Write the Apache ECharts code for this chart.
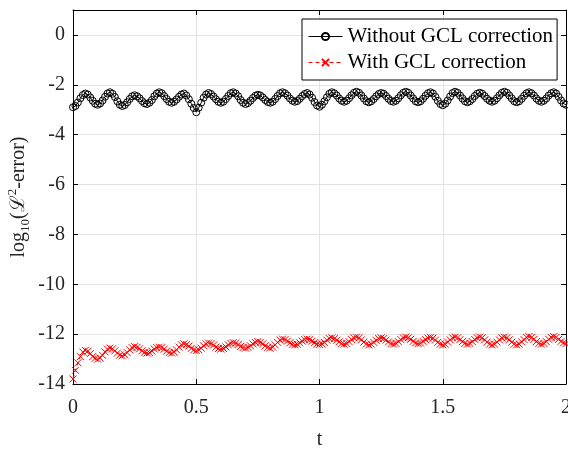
<!DOCTYPE html>
<html>
<head>
<meta charset="utf-8">
<script src="https://cdn.jsdelivr.net/npm/echarts@6/dist/echarts.min.js"></script>
<style>
  html, body { margin: 0; padding: 0; background: #fff; }
  #chart { width: 568px; height: 451px; }
</style>
</head>
<body>
<div id="chart"></div>
<script>
// Sampling step of the time grid (both runs are stored at the same instants)
const T_STEP = 0.01;

// log10 of the L2 error without the geometric conservation law correction
const errWithout = [
  -2.90,-2.85,-2.71,-2.54,-2.41,-2.35,-2.39,-2.51,-2.64,-2.76,
  -2.80,-2.75,-2.63,-2.48,-2.35,-2.30,-2.36,-2.49,-2.66,-2.80,
  -2.85,-2.81,-2.70,-2.57,-2.46,-2.42,-2.46,-2.54,-2.65,-2.74,
  -2.77,-2.72,-2.61,-2.46,-2.35,-2.30,-2.34,-2.45,-2.57,-2.68,
  -2.72,-2.68,-2.59,-2.48,-2.39,-2.35,-2.43,-2.58,-2.76,-2.93,
  -3.10,-2.92,-2.72,-2.52,-2.39,-2.33,-2.37,-2.47,-2.58,-2.68,
  -2.72,-2.68,-2.57,-2.45,-2.34,-2.30,-2.35,-2.46,-2.61,-2.72,
  -2.77,-2.73,-2.64,-2.53,-2.44,-2.40,-2.43,-2.51,-2.61,-2.69,
  -2.72,-2.68,-2.57,-2.45,-2.34,-2.30,-2.34,-2.43,-2.55,-2.64,
  -2.68,-2.65,-2.56,-2.45,-2.37,-2.33,-2.39,-2.52,-2.69,-2.83,
  -2.88,-2.80,-2.66,-2.50,-2.36,-2.30,-2.34,-2.43,-2.55,-2.64,
  -2.68,-2.64,-2.54,-2.42,-2.32,-2.28,-2.32,-2.43,-2.55,-2.66,
  -2.70,-2.66,-2.57,-2.46,-2.37,-2.33,-2.36,-2.45,-2.56,-2.65,
  -2.68,-2.64,-2.54,-2.42,-2.32,-2.28,-2.32,-2.43,-2.55,-2.66,
  -2.70,-2.66,-2.56,-2.44,-2.34,-2.30,-2.35,-2.48,-2.64,-2.77,
  -2.82,-2.76,-2.63,-2.47,-2.33,-2.28,-2.32,-2.43,-2.55,-2.66,
  -2.70,-2.66,-2.57,-2.45,-2.36,-2.32,-2.36,-2.45,-2.56,-2.64,
  -2.68,-2.64,-2.54,-2.42,-2.32,-2.28,-2.32,-2.43,-2.55,-2.66,
  -2.70,-2.66,-2.56,-2.44,-2.34,-2.30,-2.34,-2.43,-2.55,-2.64,
  -2.68,-2.64,-2.55,-2.43,-2.34,-2.30,-2.35,-2.48,-2.63,-2.75,
  -2.80
];

// log10 of the L2 error with the correction applied
const errWith = [
  -13.80,-13.45,-13.15,-12.90,-12.72,-12.65,-12.68,-12.78,-12.90,-12.97,
  -13.00,-12.96,-12.85,-12.71,-12.60,-12.56,-12.59,-12.67,-12.76,-12.84,
  -12.87,-12.83,-12.74,-12.63,-12.54,-12.50,-12.53,-12.59,-12.67,-12.73,
  -12.76,-12.74,-12.68,-12.60,-12.54,-12.52,-12.54,-12.60,-12.68,-12.74,
  -12.76,-12.72,-12.63,-12.52,-12.43,-12.39,-12.42,-12.48,-12.57,-12.63,
  -12.66,-12.63,-12.56,-12.47,-12.39,-12.36,-12.38,-12.44,-12.52,-12.58,
  -12.60,-12.57,-12.51,-12.43,-12.37,-12.34,-12.36,-12.42,-12.49,-12.54,
  -12.56,-12.53,-12.47,-12.39,-12.33,-12.30,-12.33,-12.39,-12.47,-12.53,
  -12.56,-12.52,-12.43,-12.33,-12.24,-12.20,-12.22,-12.28,-12.35,-12.41,
  -12.43,-12.41,-12.35,-12.28,-12.22,-12.20,-12.22,-12.28,-12.34,-12.40,
  -12.42,-12.39,-12.33,-12.24,-12.18,-12.15,-12.18,-12.24,-12.31,-12.38,
  -12.40,-12.37,-12.30,-12.22,-12.15,-12.12,-12.15,-12.23,-12.32,-12.40,
  -12.43,-12.40,-12.33,-12.25,-12.18,-12.15,-12.18,-12.24,-12.31,-12.38,
  -12.40,-12.37,-12.30,-12.22,-12.15,-12.12,-12.15,-12.21,-12.29,-12.35,
  -12.38,-12.36,-12.29,-12.22,-12.16,-12.13,-12.16,-12.24,-12.33,-12.40,
  -12.43,-12.40,-12.32,-12.23,-12.15,-12.12,-12.15,-12.22,-12.30,-12.37,
  -12.40,-12.37,-12.30,-12.22,-12.15,-12.12,-12.15,-12.23,-12.32,-12.40,
  -12.43,-12.40,-12.32,-12.23,-12.15,-12.12,-12.15,-12.23,-12.32,-12.40,
  -12.43,-12.40,-12.31,-12.22,-12.13,-12.10,-12.13,-12.21,-12.30,-12.37,
  -12.40,-12.37,-12.30,-12.21,-12.13,-12.10,-12.13,-12.21,-12.29,-12.35,
  -12.38
];

const seriesNames = ['Without GCL correction', 'With GCL correction'];
const xTicks = [0, 0.5, 1, 1.5, 2];
const yTicks = [-14, -12, -10, -8, -6, -4, -2, 0];

const FONT = "'Liberation Serif', 'DejaVu Serif', serif";
const TXT = '#262626';

const tGrid = errWithout.map((_, i) => +(i * T_STEP).toFixed(2));
const pairs = (ys) => ys.map((y, i) => [tGrid[i], y]);

const chart = echarts.init(document.getElementById('chart'), null, { renderer: 'canvas' });

const boxAxisCommon = {
  axisLine: { show: true, onZero: false, lineStyle: { color: '#000', width: 1 } },
  axisTick: { show: true, inside: true, length: 5, lineStyle: { color: '#000', width: 1 } }
};

chart.setOption({
  animation: false,
  backgroundColor: '#fff',
  grid: { left: 73, right: 2, top: 10, bottom: 67, containLabel: false, outerBoundsMode: 'none' },
  legend: {
    data: seriesNames,
    orient: 'vertical',
    left: 302,
    top: 19,
    padding: [7, 4, 7, 6],
    itemGap: 5,
    itemWidth: 34,
    itemHeight: 9,
    backgroundColor: '#fff',
    borderColor: '#000',
    borderWidth: 1,
    borderRadius: 0,
    lineStyle: { width: 1 },
    textStyle: { fontFamily: FONT, fontSize: 21, color: '#000', lineHeight: 20 }
  },
  xAxis: [
    Object.assign({
      type: 'value', min: xTicks[0], max: xTicks[xTicks.length - 1], interval: 0.5,
      position: 'bottom',
      name: 't', nameLocation: 'middle', nameGap: 46, nameMoveOverlap: false,
      nameTextStyle: { fontFamily: FONT, fontSize: 20, color: TXT },
      axisLabel: { fontFamily: FONT, fontSize: 20, color: TXT, margin: 14,
        formatter: (v) => String(v) },
      splitLine: { show: true, lineStyle: { color: '#e3e3e3', width: 1 } }
    }, boxAxisCommon),
    Object.assign({
      type: 'value', min: 0, max: 2, interval: 0.5, position: 'top',
      axisLabel: { show: false }, splitLine: { show: false }
    }, boxAxisCommon)
  ],
  yAxis: [
    Object.assign({
      type: 'value', min: yTicks[0], max: 1, interval: 2,
      position: 'left',
      name: '{a|log}{s|10}{a|(ℒ}{p|2}{a|-error)}',
      nameLocation: 'middle', nameGap: 41, nameRotate: 90, nameMoveOverlap: false,
      nameTextStyle: {
        fontFamily: FONT, fontSize: 20, color: TXT,
        rich: {
          a: { fontFamily: FONT, fontSize: 20, color: TXT, lineHeight: 26 },
          s: { fontFamily: FONT, fontSize: 13, color: TXT, lineHeight: 12, verticalAlign: 'bottom' },
          p: { fontFamily: FONT, fontSize: 13, color: TXT, lineHeight: 12, verticalAlign: 'top' }
        }
      },
      axisLabel: { fontFamily: FONT, fontSize: 20, color: TXT, margin: 8,
        formatter: (v) => (yTicks.indexOf(v) >= 0 ? String(v) : '') },
      splitLine: { show: true, lineStyle: { color: '#e3e3e3', width: 1 } }
    }, boxAxisCommon),
    Object.assign({
      type: 'value', min: -14, max: 1, interval: 2, position: 'right',
      axisLabel: { show: false }, splitLine: { show: false }
    }, boxAxisCommon)
  ],
  series: [
    {
      name: seriesNames[0],
      type: 'line',
      xAxisIndex: 0, yAxisIndex: 0,
      data: pairs(errWithout),
      symbol: 'circle',
      symbolSize: 7,
      showAllSymbol: true,
      lineStyle: { color: '#000', width: 1, type: 'solid' },
      itemStyle: { color: 'rgba(0,0,0,0)', borderColor: '#000', borderWidth: 1 },
      emphasis: { disabled: true },
      z: 3
    },
    {
      name: seriesNames[1],
      type: 'line',
      xAxisIndex: 0, yAxisIndex: 0,
      data: pairs(errWith),
      symbol: 'path://M0,0L10,10M10,0L0,10',
      symbolSize: 7,
      showAllSymbol: true,
      lineStyle: { color: '#ff0000', width: 1, type: [4, 3] },
      itemStyle: { color: 'rgba(255,0,0,0)', borderColor: '#ff0000', borderWidth: 1 },
      emphasis: { disabled: true },
      z: 2
    }
  ]
});
</script>
</body>
</html>
